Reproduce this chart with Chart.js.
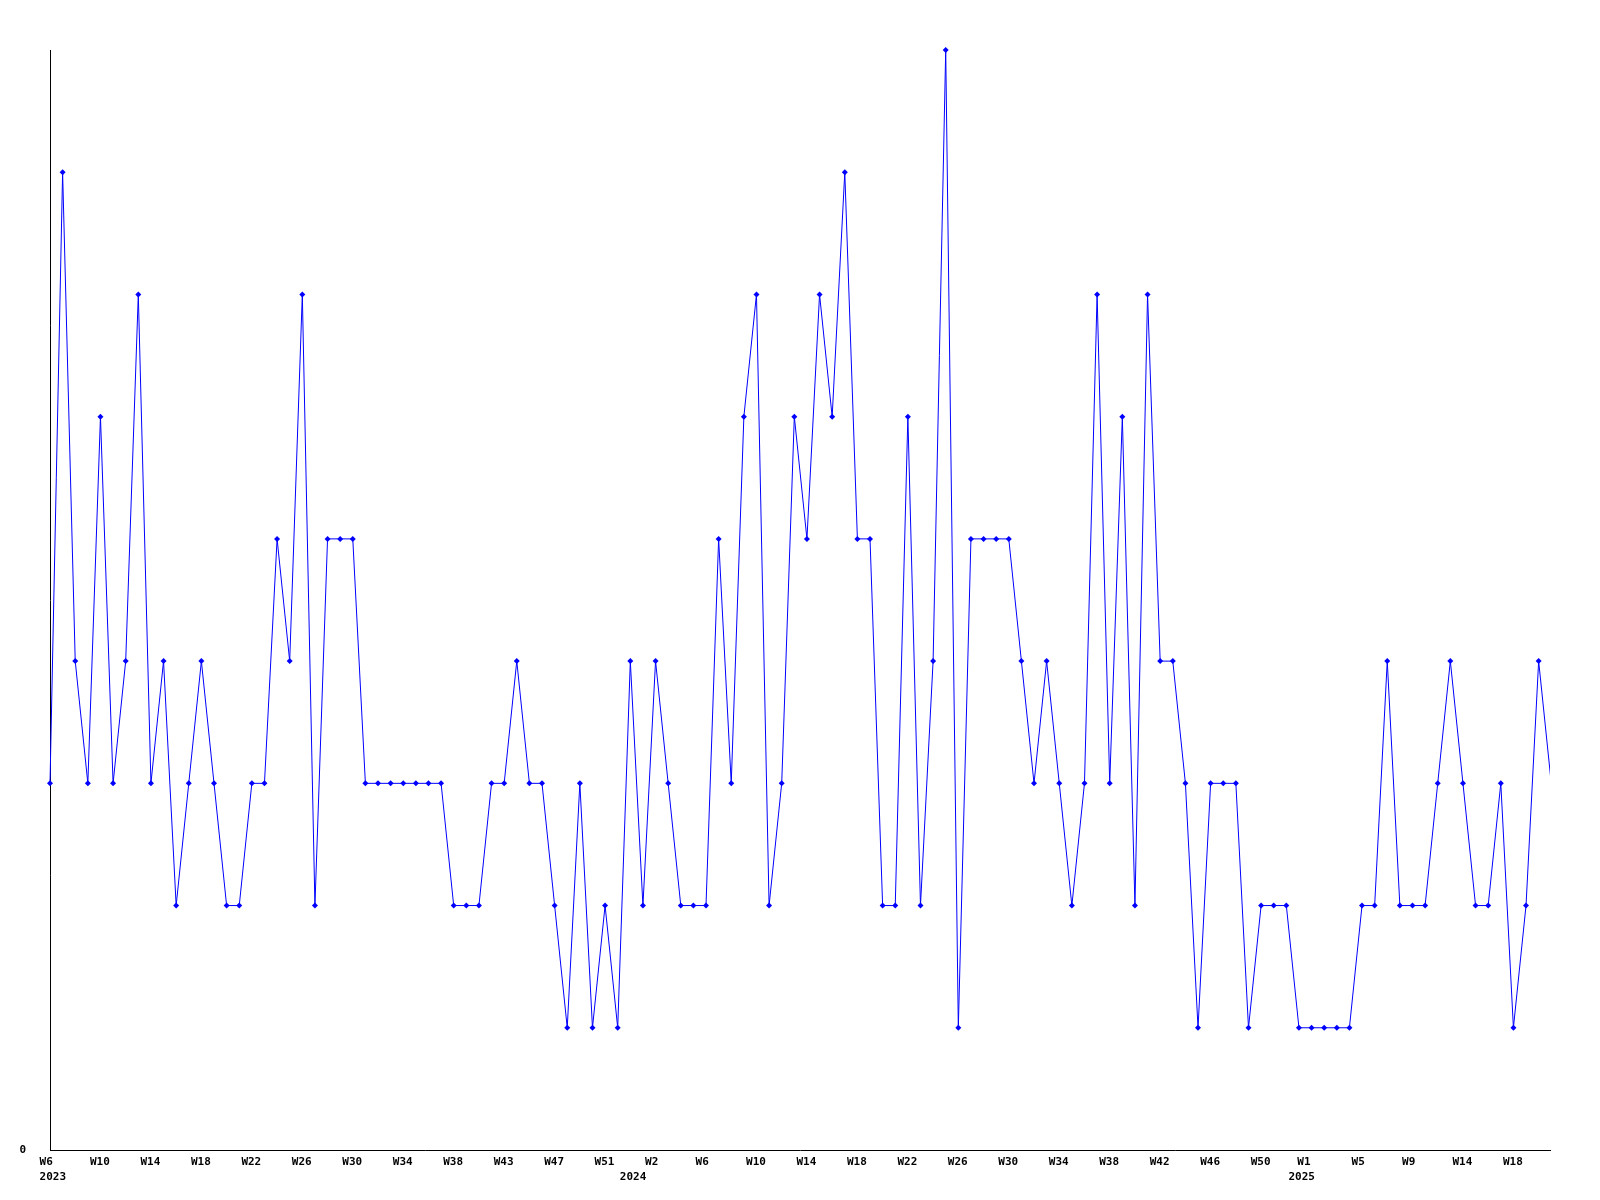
<!DOCTYPE html>
<html>
<head>
    <title>Weekly counts</title>
    <script src="https://cdn.jsdelivr.net/npm/chart.js"></script>
    <style>
        body { margin: 0; background: #fff; }
        #chartContainer { width: 1600px; height: 1200px; }
    </style>
</head>
<body>

    <div id="chartContainer">
        <canvas id="weekChart" width="1600" height="1200"></canvas>
    </div>

    <script>
        // one value per week, 2023 W6 .. 2025 W21
        var weekCounts = [
            3, 8, 4, 3, 6, 3, 4, 7, 3, 4,
            2, 3, 4, 3, 2, 2, 3, 3, 5, 4,
            7, 2, 5, 5, 5, 3, 3, 3, 3, 3,
            3, 3, 2, 2, 2, 3, 3, 4, 3, 3,
            2, 1, 3, 1, 2, 1, 4, 2, 4, 3,
            2, 2, 2, 5, 3, 6, 7, 2, 3, 6,
            5, 7, 6, 8, 5, 5, 2, 2, 6, 2,
            4, 9, 1, 5, 5, 5, 5, 4, 3, 4,
            3, 2, 3, 7, 3, 6, 2, 7, 4, 4,
            3, 1, 3, 3, 3, 1, 2, 2, 2, 1,
            1, 1, 1, 1, 2, 2, 4, 2, 2, 2,
            3, 4, 3, 2, 2, 3, 1, 2, 4, 3
        ];

        // tick labels on the week axis and the week index they sit at
        var weekTickLabels = ["W6", "W10", "W14", "W18", "W22", "W26", "W30", "W34", "W38", "W43", "W47", "W51",
                              "W2", "W6", "W10", "W14", "W18", "W22", "W26", "W30", "W34", "W38", "W42", "W46", "W50",
                              "W1", "W5", "W9", "W14", "W18"];
        var weekTickAt = [0, 4, 8, 12, 16, 20, 24, 28, 32, 36, 40, 44,
                          48, 52, 56, 60, 64, 68, 72, 76, 80, 84, 88, 92, 96,
                          99.7, 104, 108, 112, 116];

        var yearLabels = ["2023", "2024", "2025"];
        var yearAt = [0, 46, 99];

        // labels start a little left of their tick
        var labelShift = 0.83;

        // merge week and year labels into one tick list
        var xTicks = weekTickAt.map(function (p, i) {
            return { value: p, text: [weekTickLabels[i]] };
        });
        yearAt.forEach(function (p, i) {
            var t = xTicks.find(function (k) { return k.value === p; });
            if (t) t.text.push(yearLabels[i]);
            else xTicks.push({ value: p, text: ["", yearLabels[i]] });
        });
        xTicks.sort(function (a, b) { return a.value - b.value; });

        var tickFont = { family: "DejaVu Sans Mono", size: 11, weight: "bold", lineHeight: 1.33 };
        var lastIdx = weekCounts.length - 1;

        var chart = new Chart(document.getElementById("weekChart"), {
            type: "line",
            data: {
                datasets: [{
                    label: "count",
                    data: weekCounts.map(function (v, i) { return { x: i, y: v }; }),
                    borderColor: "#0000ff",
                    borderWidth: 1,
                    pointStyle: "rectRot",
                    // last marker falls off the plot edge in the original
                    pointRadius: function (ctx) { return ctx.dataIndex === lastIdx ? 0 : 3; },
                    pointBackgroundColor: "#0000ff",
                    pointBorderWidth: 0,
                    tension: 0,
                    clip: { left: 10, top: 10, right: 0, bottom: 10 }
                }]
            },
            options: {
                responsive: false,
                animation: false,
                layout: { padding: { top: 50, right: 50, left: 0, bottom: 0 } },
                plugins: {
                    legend: { display: false },
                    tooltip: { enabled: false }
                },
                scales: {
                    x: {
                        type: "linear",
                        min: 0,
                        max: 118.9,
                        grid: { display: false, drawTicks: false },
                        border: { display: true, color: "#000", width: 1 },
                        ticks: {
                            align: "start",
                            autoSkip: false,
                            maxRotation: 0,
                            padding: 5,
                            color: "#000",
                            font: tickFont,
                            callback: function (value, index) { return xTicks[index].text; }
                        },
                        afterBuildTicks: function (scale) {
                            scale.ticks = xTicks.map(function (t) { return { value: t.value - labelShift }; });
                        },
                        afterFit: function (scale) { scale.height = 50; }
                    },
                    y: {
                        min: 0,
                        max: 9,
                        grid: { display: false, drawTicks: false },
                        border: { display: true, color: "#000", width: 1 },
                        ticks: {
                            padding: 24,
                            color: "#000",
                            font: tickFont
                        },
                        afterBuildTicks: function (scale) {
                            scale.ticks = [{ value: 0 }];
                        },
                        afterFit: function (scale) { scale.width = 50; }
                    }
                }
            }
        });
    </script>

</body>
</html>
